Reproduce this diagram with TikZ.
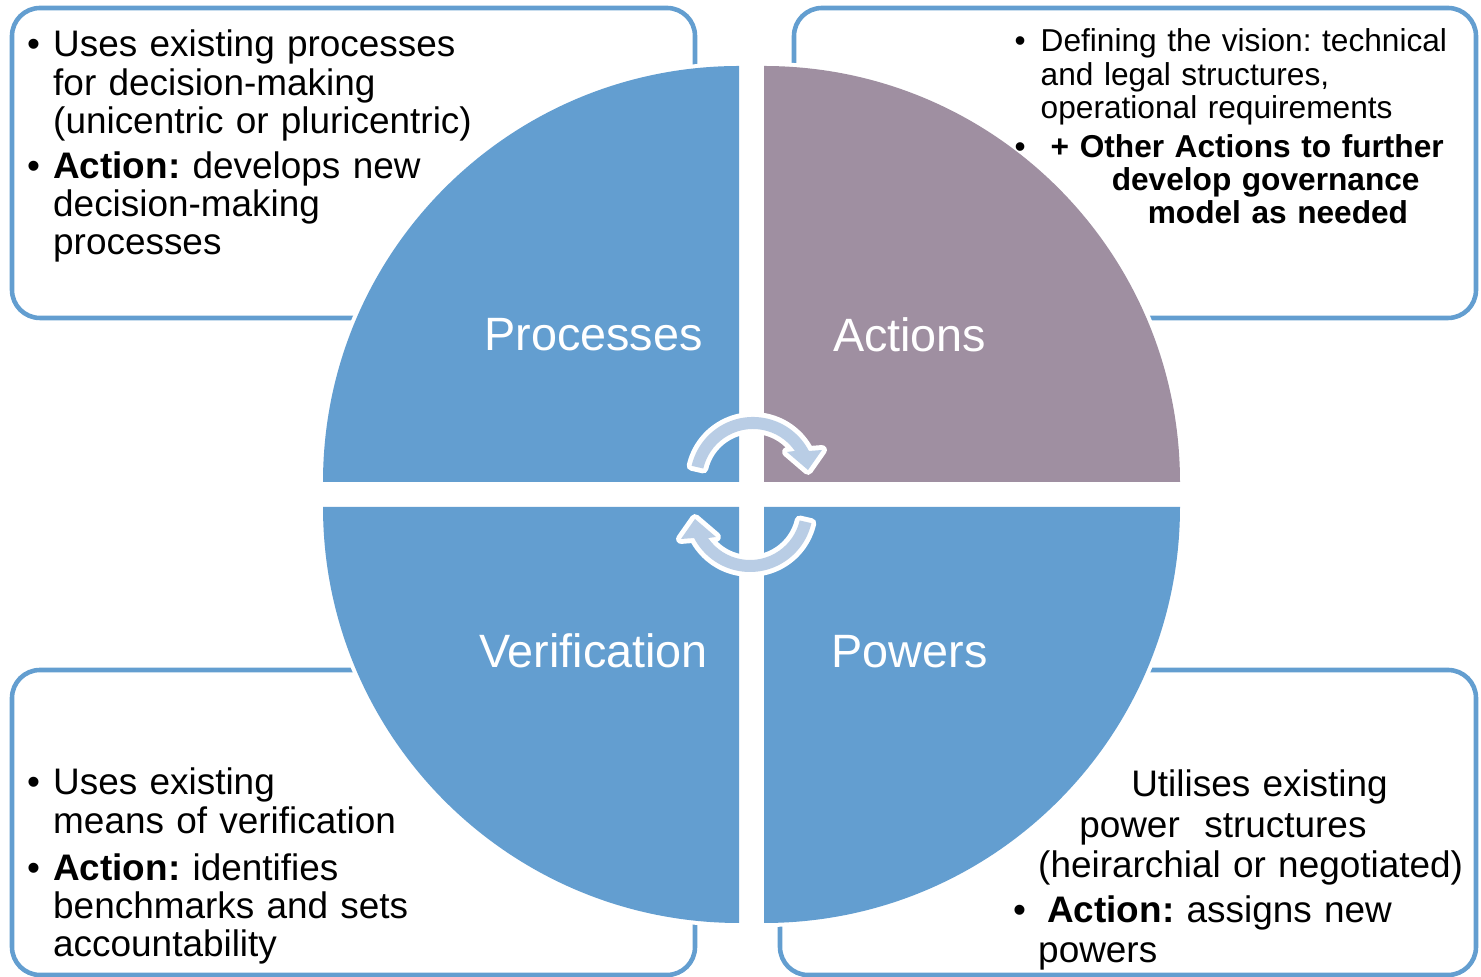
\documentclass[tikz,border=0pt]{standalone}
\usepackage{fontspec}
\setmainfont{Liberation Sans}
\frenchspacing
\definecolor{quadblue}{RGB}{99,158,208}
\definecolor{quadmauve}{RGB}{159,143,161}
\definecolor{ringblue}{RGB}{185,205,229}
\newcommand{\bul}[2][0.26cm]{\noindent\hangindent=#1\hbox to #1{\textbullet\hfil}#2\par}

\begin{document}
\begin{tikzpicture}[x=0.01cm, y=0.01cm, node distance=3.16cm]
  \tikzset{infobox/.style={draw=quadblue, line width=1.3pt, rounded corners=0.28cm},
           quad/.style={fill=#1, preaction={draw=white, line width=2.3pt}},
           ring/.style={fill=ringblue, preaction={draw=white, line width=2.8pt, line join=round}},
           quadlabel/.style={text=white, inner sep=0pt, font=\fontsize{13.3}{16}\selectfont},
           bodytext/.style={anchor=base west, inner sep=0pt, text width=7cm, align=left, font=\fontsize{10.5}{10.85}\selectfont},
           smalltext/.style={bodytext, font=\fontsize{9}{9.4}\selectfont}}
  \useasboundingbox (0,0) rectangle (1481,-977);

  % Cadres
  \draw[infobox] (12,-8) rectangle (695,-318);
  \draw[infobox] (794,-8) rectangle (1476,-318);
  \draw[infobox] (12,-670) rectangle (695,-975);
  \draw[infobox] (780,-670) rectangle (1476,-975);

  % Quartiers du disque
  \path[quad=quadblue] (739,-482) -- (323,-482) arc (180:90:416) -- cycle;
  \path[quad=quadmauve] (764,-482) -- (764,-66) arc (90:0:416) -- cycle;
  \path[quad=quadblue] (764,-507) -- (1180,-507) arc (0:-90:416) -- cycle;
  \path[quad=quadblue] (739,-507) -- (739,-923) arc (270:180:416) -- cycle;

  % Flèches tournantes
  \begin{scope}[shift={(753,-480)}]
    \path[ring] (167:63) arc (167:27.4:63) -- (69,30) -- (55,10) -- (34,28) -- (34.7:51) arc (34.7:167:51) -- cycle;
  \end{scope}
  \begin{scope}[shift={(750,-509)}, rotate=180]
    \path[ring] (167:63) arc (167:27.4:63) -- (69,30) -- (55,10) -- (34,28) -- (34.7:51) arc (34.7:167:51) -- cycle;
  \end{scope}

  % Titres
  \node[quadlabel] (proc) at (593.5,-335) {Processes};
  \node[quadlabel, right of=proc] (act) {Actions};
  \node[quadlabel, below of=proc] (verif) {Verification};
  \node[quadlabel, right of=verif] (pow) {Powers};

  % Textes
  \node[bodytext] (procnote) at (26.5,-57) {\bul{Uses existing processes\newline for decision-making\newline (unicentric or pluricentric)}\vspace{2pt}\bul{\textbf{Action:} develops new\newline decision-making\newline processes}};
  \node[smalltext] (actnote) at (1014,-52) {\bul{Defining the vision: technical\newline and legal structures,\newline operational requirements}\vspace{1.7pt}\bul{\hspace*{0.1cm}\textbf{+ Other Actions to further\newline\hspace*{0.71cm}develop governance\newline\hspace*{1.07cm}model as needed}}};
  \node[bodytext] (verifnote) at (26.5,-795) {\bul{Uses existing\newline means of verification}\vspace{2.5pt}\bul{\textbf{Action:} identifies\newline benchmarks and sets\newline accountability}};
  \node[bodytext, font=\fontsize{10.5}{11.4}\selectfont] (pownote) at (1012.5,-797) {\hspace*{1.18cm}Utilises existing\newline\hspace*{0.66cm}power\ \ structures\newline\hspace*{0.25cm}(heirarchial or negotiated)\par\vspace{1.4pt}\noindent\hangindent=0.25cm\hbox to 0.34cm{\textbullet\hfil}\textbf{Action:} assigns new\newline powers\par};
\end{tikzpicture}
\end{document}
